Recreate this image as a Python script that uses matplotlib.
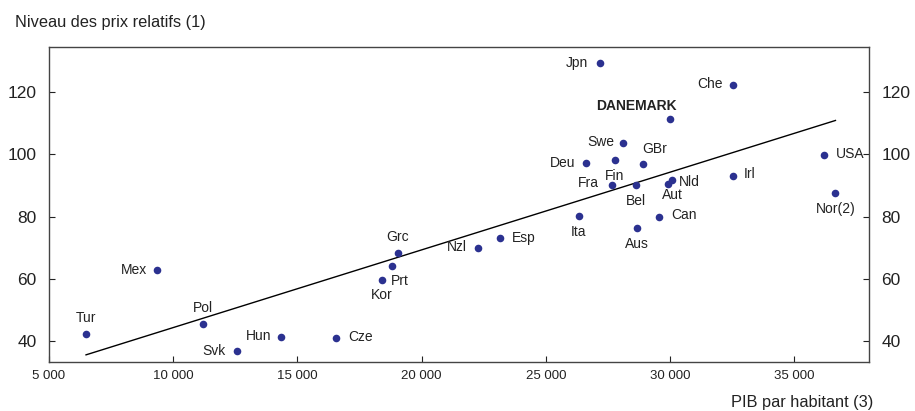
import numpy as np
import matplotlib.pyplot as plt
from matplotlib.ticker import FuncFormatter

plt.rcParams['font.family'] = ['Liberation Sans', 'DejaVu Sans']

# PIB par habitant (x) et niveau des prix relatifs (y)
countries = ['Tur', 'Mex', 'Pol', 'Svk', 'Hun', 'Cze', 'Kor', 'Prt', 'Grc', 'Nzl',
             'Esp', 'Ita', 'Aus', 'Can', 'Fra', 'Bel', 'Fin', 'Deu', 'Swe', 'GBr',
             'Aut', 'Nld', 'DANEMARK', 'Jpn', 'Che', 'Irl', 'USA', 'Nor(2)']
gdp = [6490, 9340, 11190, 12560, 14350, 16570, 18410, 18800, 19040, 22250,
       23170, 26310, 28670, 29540, 27670, 28610, 27780, 26630, 28110, 28890,
       30070, 29910, 30010, 27170, 32510, 32510, 36170, 36650]
prices = [42.2, 62.8, 45.6, 36.9, 41.2, 41.1, 59.6, 64.2, 68.2, 69.9,
          73.1, 80.1, 76.5, 79.8, 90.1, 90.2, 98.1, 97.1, 103.5, 96.9,
          91.7, 90.4, 111.5, 129.5, 122.4, 93.1, 99.7, 87.6]

# position des étiquettes (décalage en pixels, alignement)
label_dx = [0, -10, 0, -11, -10, 12, 0, -1, 0, -11,
            11, 0, 0, 12, -13, 0, 0, -11, -9, 0,
            0, 11, 6, -12, -10, 11, 12, 0]
label_dy = [16, 0, 16, 0, 1, 1, -15, -15, 16, 1,
            0, -16, -16, 2, 2, -16, -16, 0, 1, 15,
            -15, 2, 13, 0, 1, 2, 1, -16]
label_ha = ['center', 'right', 'center', 'right', 'right', 'left', 'center', 'left', 'center', 'right',
            'left', 'center', 'center', 'left', 'right', 'center', 'center', 'right', 'right', 'left',
            'center', 'left', 'right', 'right', 'right', 'left', 'left', 'center']

# droite de tendance
trend_x = [6490, 36650]
trend_y = [35.6, 110.9]

fig = plt.figure(figsize=(9.15, 4.11), dpi=100)
ax = fig.add_axes([49/915, 1-362/411, 820/915, 315/411])

ax.plot(trend_x, trend_y, color='black', linewidth=1.0, zorder=2)
ax.scatter(gdp, prices, s=30, color='#2b3190', zorder=3, linewidths=0)

for name, x, y, dx, dy, ha in zip(countries, gdp, prices, label_dx, label_dy, label_ha):
    bold = name == 'DANEMARK'
    ax.annotate(name, (x, y), xytext=(dx, dy), textcoords='offset pixels',
                ha=ha, va='center', fontsize=10, color='#222222',
                fontweight='bold' if bold else 'normal')

ax.set_xlim(5000, 38000)
ax.set_ylim(33.3, 134.5)
ax.set_xticks(np.arange(5000, 35001, 5000))
ax.set_yticks(np.arange(40, 121, 20))
ax.xaxis.set_major_formatter(FuncFormatter(lambda v, p: f'{int(v):,}'.replace(',', ' ')))

ax.tick_params(axis='x', direction='in', length=4, labelsize=9.5, pad=6, colors='#222222')
ax.tick_params(axis='y', direction='in', length=4, labelsize=12.5, pad=9,
               right=True, labelright=True, colors='#222222')
for s in ax.spines.values():
    s.set_color('#444444')
    s.set_linewidth(1.0)

fig.text(15/915, 1-27.5/411, 'Niveau des prix relatifs (1)', fontsize=11.8,
         ha='left', va='baseline', color='#222222')
fig.text(873/915, 1-406.5/411, 'PIB par habitant (3)', fontsize=11.8,
         ha='right', va='baseline', color='#222222')

fig.savefig('out.png', dpi=100)
